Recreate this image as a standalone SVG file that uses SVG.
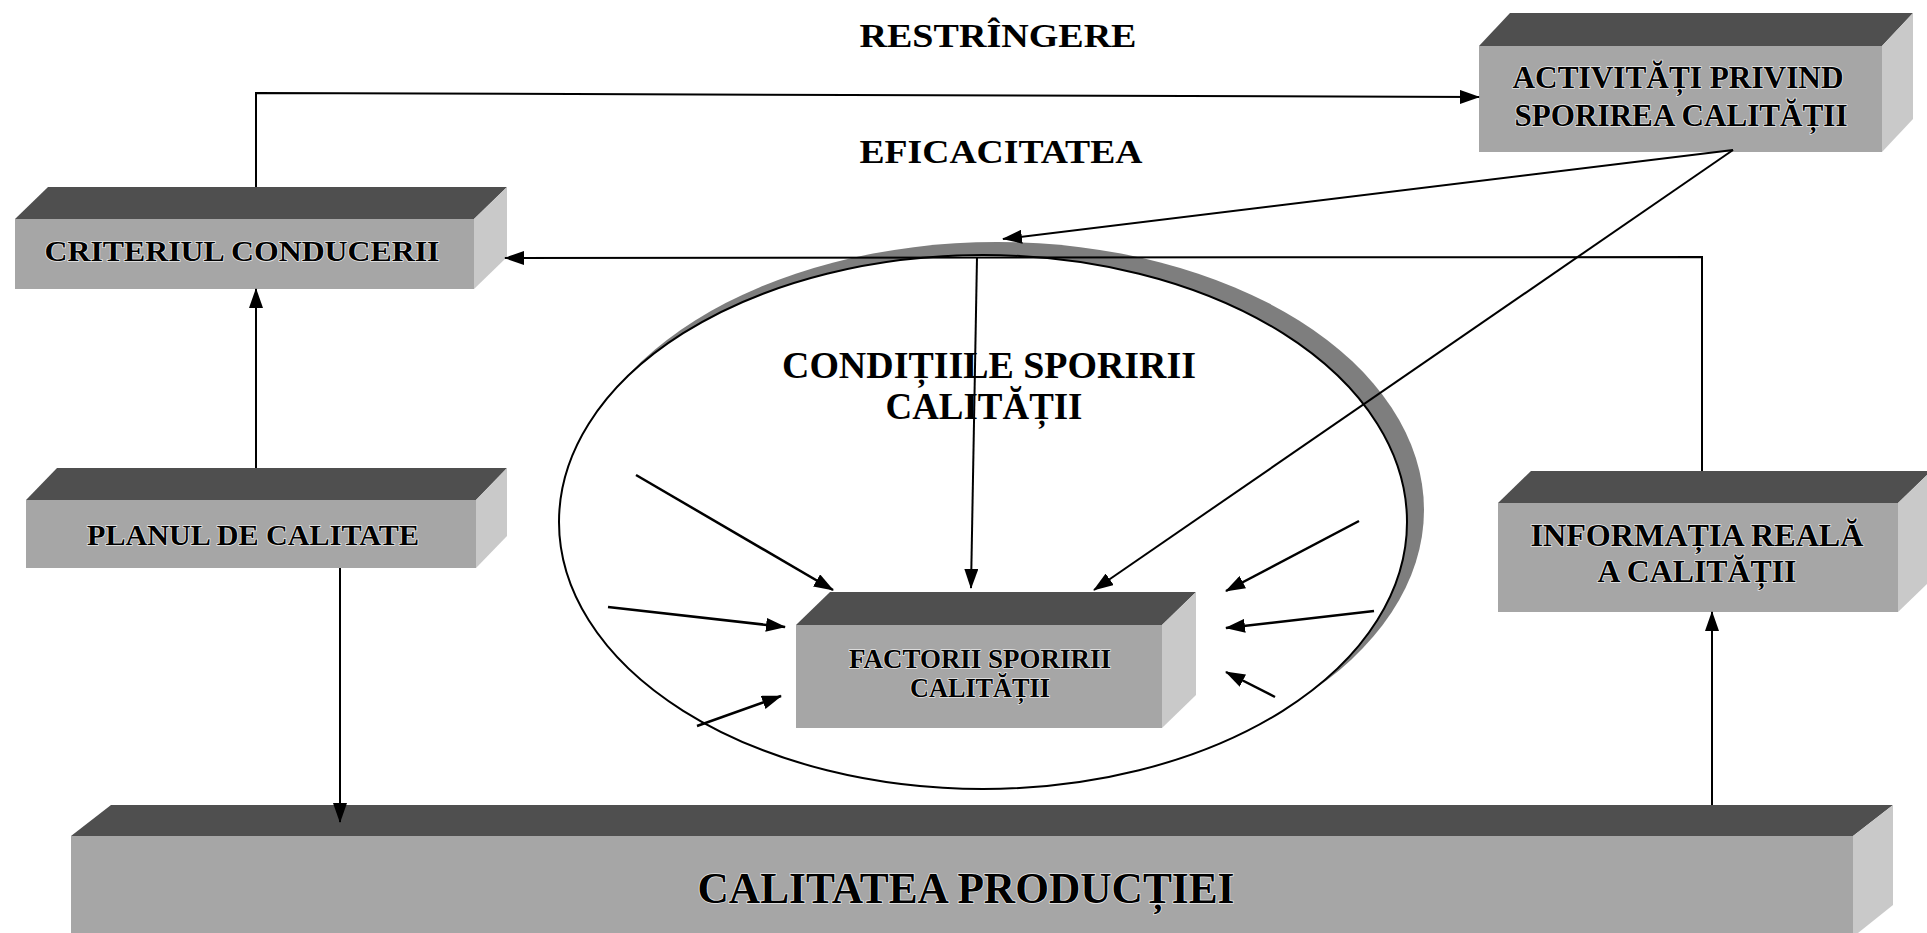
<svg xmlns="http://www.w3.org/2000/svg" width="1927" height="933" viewBox="0 0 1927 933">
<style>
.front{fill:#a6a6a6}
.top{fill:#4f4f4f}
.side{fill:#c9c9c9}
.lbl{font-family:"Liberation Serif","Times New Roman",serif;font-weight:bold;fill:#000;text-anchor:middle;stroke:#e6e6e6;stroke-width:1.5;paint-order:stroke}
.free{font-family:"Liberation Serif","Times New Roman",serif;font-weight:bold;fill:#000;text-anchor:middle}
.ln{fill:none;stroke:#000;stroke-width:2}
.ar{fill:none;stroke:#000;stroke-width:2.5}
</style>
<defs>
<marker id="ah" viewBox="0 0 20 14" refX="19" refY="7" markerWidth="20" markerHeight="14" markerUnits="userSpaceOnUse" orient="auto">
<path d="M0,0 L20,7 L0,14 Z" fill="#000"/>
</marker>
</defs>
<rect width="1927" height="933" fill="#fff"/>

<g id="restringere"><text class="free" x="998" y="47" font-size="33" textLength="277" lengthAdjust="spacingAndGlyphs">RESTRÎNGERE</text></g>
<g id="eficacitatea"><text class="free" x="1001" y="163" font-size="33" textLength="283" lengthAdjust="spacingAndGlyphs">EFICACITATEA</text></g>

<g id="conditiile">
<ellipse cx="997" cy="510" rx="427" ry="268" fill="#7e7e7e"/>
<ellipse cx="983" cy="522" rx="424" ry="267" fill="#fff" stroke="#000" stroke-width="2"/>
<text class="free" x="989" y="378" font-size="38" textLength="414" lengthAdjust="spacingAndGlyphs">CONDIȚIILE SPORIRII</text>
<text class="free" x="984" y="419" font-size="38" textLength="197" lengthAdjust="spacingAndGlyphs">CALITĂȚII</text>
</g>

<g id="criteriul">
<path class="top" d="M15,219 L48,187 L507,187 L474,219 Z"/>
<path class="side" d="M474,219 L507,187 L507,257 L474,289 Z"/>
<rect class="front" x="15" y="219" width="459" height="70"/>
<text class="lbl" x="242" y="261" font-size="30" textLength="395" lengthAdjust="spacingAndGlyphs">CRITERIUL CONDUCERII</text>
</g>

<g id="activitati">
<path class="top" d="M1479,46 L1510,13 L1913,13 L1882,46 Z"/>
<path class="side" d="M1882,46 L1913,13 L1913,119 L1882,152 Z"/>
<rect class="front" x="1479" y="46" width="403" height="106"/>
<text class="lbl" x="1678" y="88" font-size="31" textLength="331" lengthAdjust="spacingAndGlyphs">ACTIVITĂȚI PRIVIND</text>
<text class="lbl" x="1681" y="126" font-size="31" textLength="333" lengthAdjust="spacingAndGlyphs">SPORIREA CALITĂȚII</text>
</g>

<g id="planul">
<path class="top" d="M26,500 L57,468 L507,468 L476,500 Z"/>
<path class="side" d="M476,500 L507,468 L507,536 L476,568 Z"/>
<rect class="front" x="26" y="500" width="450" height="68"/>
<text class="lbl" x="253" y="545" font-size="30" textLength="332" lengthAdjust="spacingAndGlyphs">PLANUL DE CALITATE</text>
</g>

<g id="informatia">
<path class="top" d="M1498,503 L1531,471 L1931,471 L1898,503 Z"/>
<path class="side" d="M1898,503 L1931,471 L1931,580 L1898,612 Z"/>
<rect class="front" x="1498" y="503" width="400" height="109"/>
<text class="lbl" x="1697" y="546" font-size="31" textLength="333" lengthAdjust="spacingAndGlyphs">INFORMAȚIA REALĂ</text>
<text class="lbl" x="1697" y="582" font-size="31" textLength="199" lengthAdjust="spacingAndGlyphs">A CALITĂȚII</text>
</g>

<g id="factorii">
<path class="top" d="M796,625 L830,592 L1196,592 L1162,625 Z"/>
<path class="side" d="M1162,625 L1196,592 L1196,695 L1162,728 Z"/>
<rect class="front" x="796" y="625" width="366" height="103"/>
<text class="lbl" x="980" y="668" font-size="27" textLength="262" lengthAdjust="spacingAndGlyphs">FACTORII SPORIRII</text>
<text class="lbl" x="980" y="697" font-size="27" textLength="140" lengthAdjust="spacingAndGlyphs">CALITĂȚII</text>
</g>

<g id="calitatea">
<path class="top" d="M71,836 L111,805 L1893,805 L1853,836 Z"/>
<path class="side" d="M1853,836 L1893,805 L1893,905 L1858,933 L1853,933 Z"/>
<rect class="front" x="71" y="836" width="1782" height="100"/>
<text class="lbl" x="966" y="903" font-size="45" textLength="537" lengthAdjust="spacingAndGlyphs">CALITATEA PRODUCȚIEI</text>
</g>

<g id="connectors">
<path class="ln" d="M256,187 L256,93 L1479,97" marker-end="url(#ah)"/>
<path class="ln" d="M1702,471 L1702,257 L505,258" marker-end="url(#ah)"/>
<path class="ln" d="M1733,150 L1003,239" marker-end="url(#ah)"/>
<path class="ln" d="M1733,150 L1094,590" marker-end="url(#ah)"/>
<path class="ln" d="M977,257 L971,588" marker-end="url(#ah)"/>
<path class="ln" d="M256,468 L256,289" marker-end="url(#ah)"/>
<path class="ln" d="M340,568 L340,822" marker-end="url(#ah)"/>
<path class="ln" d="M1712,805 L1712,612" marker-end="url(#ah)"/>
<path class="ar" d="M636,475 L833,590" marker-end="url(#ah)"/>
<path class="ar" d="M608,607 L785,627" marker-end="url(#ah)"/>
<path class="ar" d="M697,726 L781,696" marker-end="url(#ah)"/>
<path class="ar" d="M1359,521 L1226,591" marker-end="url(#ah)"/>
<path class="ar" d="M1374,611 L1226,628" marker-end="url(#ah)"/>
<path class="ar" d="M1275,697 L1226,672" marker-end="url(#ah)"/>
</g>
</svg>
